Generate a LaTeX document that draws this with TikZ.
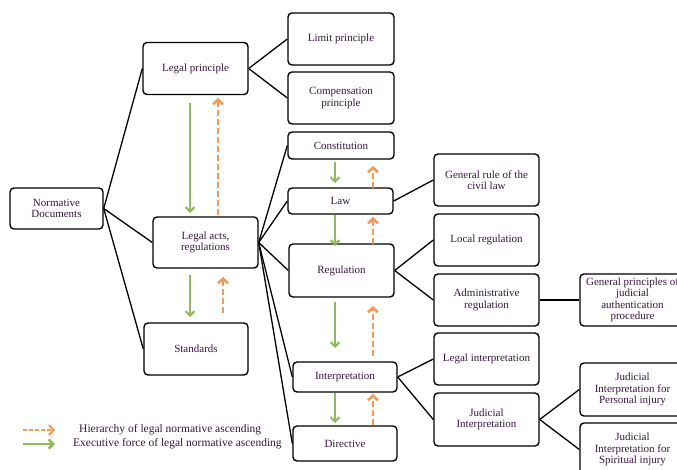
\documentclass[tikz,border=0pt]{standalone}
\usepackage{fontspec}
\setmainfont{Liberation Serif}
\usetikzlibrary{arrows.meta}
\definecolor{exgreen}{RGB}{146,185,90}
\definecolor{hiorange}{RGB}{242,154,90}
\definecolor{txt}{RGB}{55,25,60}
\begin{document}
\begin{tikzpicture}[x=1pt,y=-1pt,
 box/.style={draw, line width=1.4pt, rounded corners=4pt, align=center,
   font=\fontsize{11}{11.5}\selectfont, text=txt, inner sep=0pt,
   minimum width=105pt, minimum height=52pt},
 link/.style={line width=1.3pt},
 exec/.style={exgreen, line width=2pt, -{Straight Barb[length=4.5pt,width=9pt]}},
 hier/.style={hiorange, line width=2.6pt, dash pattern=on 6pt off 3pt, -{Straight Barb[length=4.5pt,width=10pt]}},
 legtext/.style={text=txt, font=\fontsize{11.5}{12}\selectfont, anchor=west, inner sep=0pt}]
\useasboundingbox (0,0) rectangle (677,470);
\fill[white] (0,0) rectangle (677,470);
\clip (0,0) rectangle (677,470);

% boxes
\node[box] (legalp) at (195.5,68.5) {Legal principle};
\node[box, minimum width=106pt] (limit) at (341,39) {Limit principle};
\node[box, minimum width=106pt] (comp) at (341,98) {Compensation\\principle};
\node[box, minimum width=106pt, minimum height=27pt] (const) at (341,145.5) {Constitution};
\node[box, minimum width=93pt, minimum height=41pt] (normdoc) at (56.5,208.5) {Normative\\Documents};
\node[box, minimum height=51pt] (legalacts) at (205.5,242.5) {Legal acts,\\regulations};
\node[box, minimum width=104pt] (standards) at (196,349) {Standards};
\node[box, minimum height=26pt] (law) at (340.5,201) {Law};
\node[box, minimum height=53pt] (regulation) at (341.5,270.5) {Regulation};
\node[box] (genrule) at (486.5,180) {General rule of the\\civil law};
\node[box] (localreg) at (486.5,240) {Local regulation};
\node[box] (adminreg) at (486.5,300) {Administrative\\regulation};
\node[box] (genprin) at (632.5,300) {General principles of\\judicial\\authentication\\procedure};
\node[box, minimum width=104pt, minimum height=30pt] (interp) at (345,377) {Interpretation};
\node[box, minimum width=104pt, minimum height=35pt] (directive) at (345,443.5) {Directive};
\node[box] (legalinterp) at (486.5,359) {Legal interpretation};
\node[box, minimum height=53pt] (judinterp) at (486.5,419.5) {Judicial\\Interpretation};
\node[box, minimum height=53pt] (personal) at (632.5,389.5) {Judicial\\Interpretation for\\Personal injury};
\node[box, minimum height=53pt] (spiritual) at (632.5,449.5) {Judicial\\Interpretation for\\Spiritual injury};

% tree links
\draw[link] (normdoc.east) -- (legalp.west);
\draw[link] (normdoc.east) -- (legalacts.west);
\draw[link] (normdoc.east) -- (standards.west);
\draw[link] (legalp.east) -- (limit.west);
\draw[link] (legalp.east) -- (comp.west);
\draw[link] (legalacts.east) -- (const.west);
\draw[link] (legalacts.east) -- (law.west);
\draw[link] (legalacts.east) -- (regulation.west);
\draw[link] (legalacts.east) -- (interp.west);
\draw[link] (legalacts.east) -- (directive.west);
\draw[link] (law.east) -- (genrule.west);
\draw[link] (regulation.east) -- (localreg.west);
\draw[link] (regulation.east) -- (adminreg.west);
\draw[link] (adminreg.east) -- (genprin.west);
\draw[link] (interp.east) -- (legalinterp.west);
\draw[link] (interp.east) -- (judinterp.west);
\draw[link] (judinterp.east) -- (personal.west);
\draw[link] (judinterp.east) -- (spiritual.west);

% executive force (green, down) and hierarchy (orange, up)
\coordinate (g1a) at (190,103); \coordinate (g1b) at (190,213);
\coordinate (o1a) at (218,215); \coordinate (o1b) at (218,98);
\coordinate (g2a) at (190,275); \coordinate (g2b) at (190,317);
\coordinate (o2a) at (223,313); \coordinate (o2b) at (223,277);
\coordinate (g3a) at (335,162); \coordinate (g3b) at (335,183);
\coordinate (o3a) at (373,188); \coordinate (o3b) at (373,166);
\coordinate (g4a) at (335,215); \coordinate (g4b) at (335,246);
\coordinate (o4a) at (373,244); \coordinate (o4b) at (373,217);
\coordinate (g5a) at (335,302); \coordinate (g5b) at (335,348);
\coordinate (o5a) at (373,356); \coordinate (o5b) at (373,306);
\coordinate (g6a) at (335,393); \coordinate (g6b) at (335,423);
\coordinate (o6a) at (373,425); \coordinate (o6b) at (373,394);
\draw[exec] (g1a) -- (g1b);
\draw[hier] (o1a) -- (o1b);
\draw[exec] (g2a) -- (g2b);
\draw[hier] (o2a) -- (o2b);
\draw[exec] (g3a) -- (g3b);
\draw[hier] (o3a) -- (o3b);
\draw[exec] (g4a) -- (g4b);
\draw[hier] (o4a) -- (o4b);
\draw[exec] (g5a) -- (g5b);
\draw[hier] (o5a) -- (o5b);
\draw[exec] (g6a) -- (g6b);
\draw[hier] (o6a) -- (o6b);

% legend
\coordinate (l1a) at (23,430); \coordinate (l1b) at (55,430);
\coordinate (l2a) at (23,444); \coordinate (l2b) at (55,444);
\draw[hier, line width=2.2pt, dash pattern=on 4pt off 2pt] (l1a) -- (l1b);
\draw[exec, line width=2.6pt] (l2a) -- (l2b);
\node[legtext] (leg1) at (79,430) {Hierarchy of legal normative ascending};
\node[legtext] (leg2) at (73,444) {Executive force of legal normative ascending};
\end{tikzpicture}
\end{document}
